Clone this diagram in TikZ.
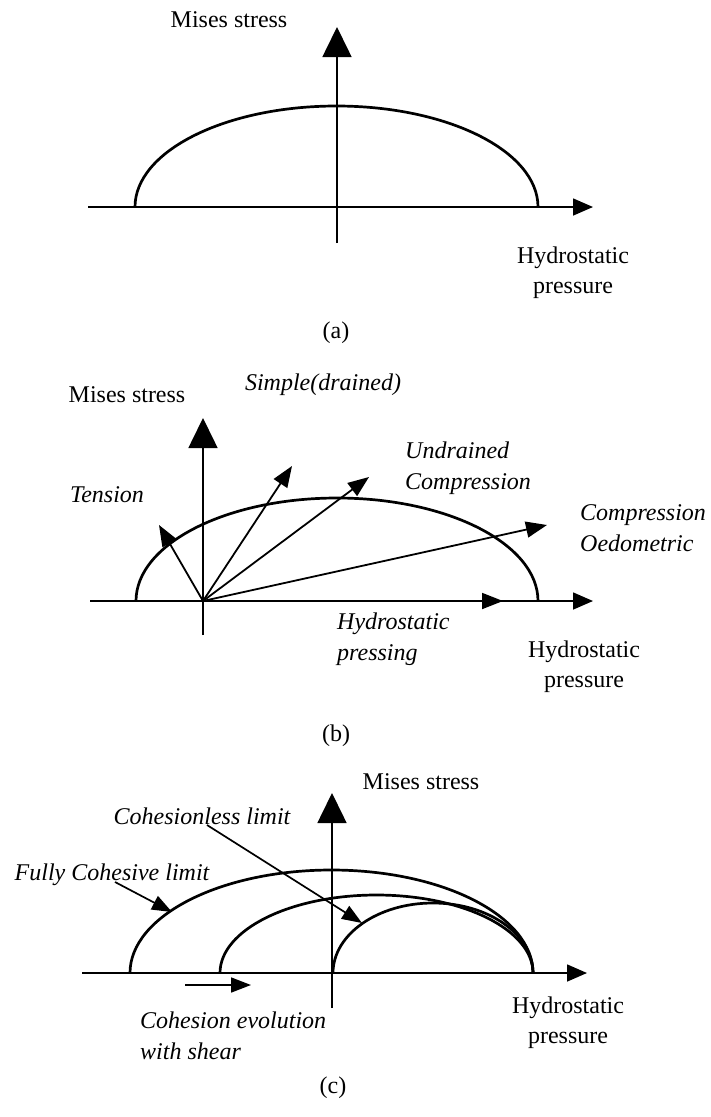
\documentclass[tikz,border=0pt]{standalone}
\usepackage{fontspec}
\setmainfont{Liberation Serif}
\usetikzlibrary{arrows.meta}
\begin{document}
\begin{tikzpicture}[x=1pt,y=-1pt,
  lbl/.style={font=\fontsize{24}{30}\selectfont, inner sep=0pt, align=center},
  ilbl/.style={font=\fontsize{24}{31}\selectfont\itshape, inner sep=0pt, align=left},
  axisline/.style={line width=1.6pt},
  vaxis/.style={axisline, -{Triangle[length=30pt,width=29pt]}},
  haxis/.style={axisline, -{Triangle[length=20pt,width=17pt]}},
  curve/.style={line width=2.7pt},
  ray/.style={line width=1.8pt, -{Triangle[length=21pt,width=16pt]}},
  ptr/.style={line width=1.7pt, -{Triangle[length=20pt,width=15pt]}},
]
\useasboundingbox (0,0) rectangle (710,1117);

% ---------------- panel (a)
\coordinate (aL) at (88,207);
\coordinate (aR) at (593,207);
\coordinate (aB) at (337,243);
\coordinate (aT) at (337,27);
\draw[haxis] (aL) -- (aR);
\draw[vaxis] (aB) -- (aT);
\draw[curve] (135,207) arc[start angle=180,end angle=0,x radius=201.5pt,y radius=101pt];
\node[lbl] (amises) at (229,20) {Mises stress};
\node[lbl] (ahyd) at (573,273) {Hydrostatic\\pressure};
\node[lbl] (acap) at (336,333) {(a)};

% ---------------- panel (b)
\coordinate (bO) at (203,601);
\coordinate (bL) at (90,601);
\coordinate (bR) at (593,601);
\coordinate (bB) at (203,635);
\coordinate (bT) at (203,418);
\draw[haxis] (bL) -- (bR);
\draw[vaxis] (bB) -- (bT);
\draw[curve] (136,601) arc[start angle=180,end angle=0,x radius=201pt,y radius=103pt];
\coordinate (bTen) at (159,525);
\coordinate (bSim) at (292,466);
\coordinate (bUnd) at (369,477);
\coordinate (bOed) at (547,525);
\coordinate (bHyd) at (503,601);
\draw[ray] (bO) -- (bTen);
\draw[ray] (bO) -- (bSim);
\draw[ray] (bO) -- (bUnd);
\draw[ray] (bO) -- (bOed);
\draw[ray] (bO) -- (bHyd);
\node[lbl] (bmises) at (127,395) {Mises stress};
\node[ilbl] (bsimple) at (323,385) {Simple(drained)};
\node[ilbl] (btension) at (107,495) {Tension};
\node[ilbl, anchor=west] (bundr) at (405,468) {Undrained\\Compression};
\node[ilbl, anchor=west] (boedo) at (580,528) {Compression\\Oedometric};
\node[ilbl, anchor=west] (bpress) at (337,639) {Hydrostatic\\pressing};
\node[lbl] (bhyd) at (584,667) {Hydrostatic\\pressure};
\node[lbl] (bcap) at (336,736) {(b)};

% ---------------- panel (c)
\coordinate (cL) at (82,973);
\coordinate (cR) at (587,973);
\coordinate (cB) at (332,1008);
\coordinate (cT) at (332,793);
\draw[haxis] (cL) -- (cR);
\draw[vaxis] (cB) -- (cT);
\draw[curve] (130,973) arc[start angle=180,end angle=0,x radius=201.5pt,y radius=103pt];
\draw[curve] (220,973) arc[start angle=180,end angle=0,x radius=156.5pt,y radius=78pt];
\draw[curve] (333,973) arc[start angle=180,end angle=0,x radius=100pt,y radius=70pt];
\node[lbl] (cmises) at (421,782) {Mises stress};
\node[ilbl] (cless) at (202,816) {Cohesionless limit};
\node[ilbl] (cfull) at (112,875) {Fully Cohesive limit};
\node[ilbl, anchor=west] (cevol) at (140,1036) {Cohesion evolution\\with shear};
\node[lbl] (chyd) at (568,1023) {Hydrostatic\\pressure};
\node[lbl] (ccap) at (333,1088) {(c)};
\coordinate (cfullS) at (115,882);
\coordinate (cfullT) at (172,912);
\coordinate (clessS) at (207,825);
\coordinate (clessT) at (362,923);
\coordinate (cevS) at (185,985);
\coordinate (cevT) at (251,985);
\draw[ptr] (cfullS) -- (cfullT);
\draw[ptr] (clessS) -- (clessT);
\draw[ptr] (cevS) -- (cevT);
\end{tikzpicture}
\end{document}
